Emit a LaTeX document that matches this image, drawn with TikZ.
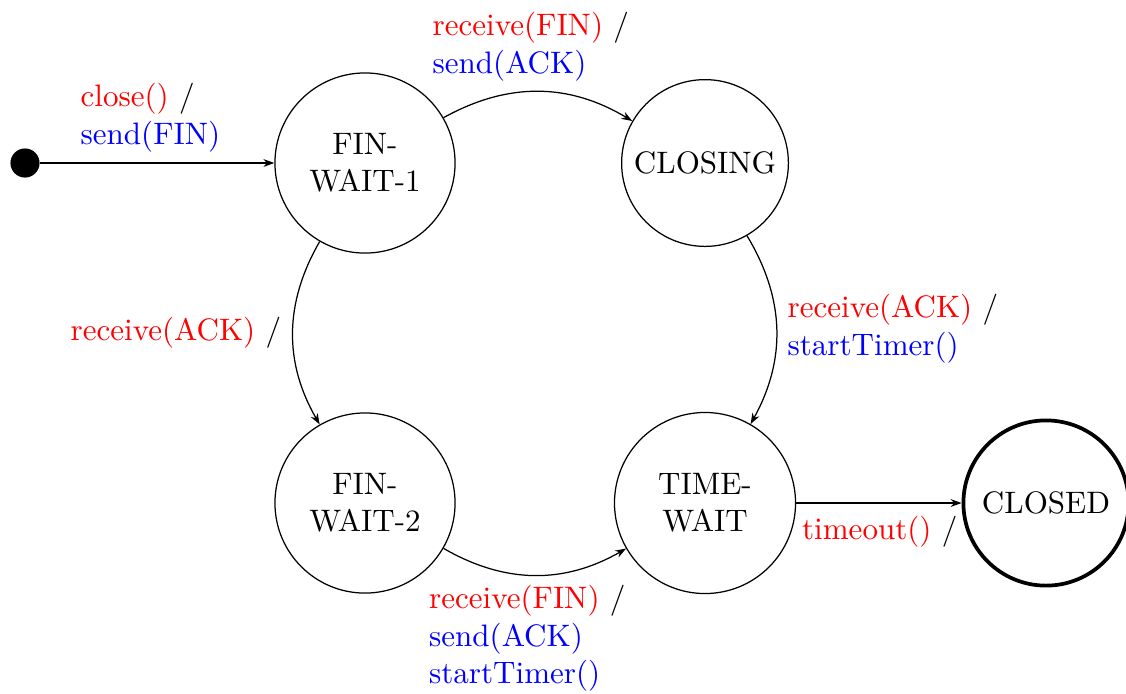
\documentclass[tikz,border=0pt]{standalone}
\usetikzlibrary{arrows.meta}
\begin{document}
\begin{tikzpicture}[x=0.322pt,y=-0.322pt,
  state/.style={draw,circle,line width=0.4pt,inner sep=0pt,align=center},
  lbl/.style={anchor=north west,inner sep=0pt,align=left},
  trans/.style={-{Stealth[length=3.5pt,width=2.5pt]},line width=0.4pt}]
\useasboundingbox (0,0) rectangle (1126,693);
\node[fill=black,circle,inner sep=0pt,minimum size=9.37pt] (init) at (25,163) {};
\node[state,minimum size=58pt] (fw1) at (365,163) {FIN-\\WAIT-1};
\node[state,minimum size=53.7pt] (closing) at (705,163) {CLOSING};
\node[state,minimum size=58pt] (fw2) at (365,503) {FIN-\\WAIT-2};
\node[state,minimum size=58.3pt] (tw) at (705,503) {TIME-\\WAIT};
\node[state,minimum size=53.2pt,line width=1.2pt] (closed) at (1046,503) {CLOSED};

\draw[trans] (init) -- (fw1);
\draw[trans] (fw1) to[bend left=30] (closing);
\draw[trans] (closing) to[bend left=30] (tw);
\draw[trans] (fw1) to[bend right=30] (fw2);
\draw[trans] (fw2) to[bend right=30] (tw);
\draw[trans] (tw) -- (closed);

\node[lbl] (l1) at (80,83) {\textcolor{red}{close()} $/$\\\textcolor{blue}{send(FIN)}};
\node[lbl] (l2) at (432,12) {\textcolor{red}{receive(FIN)} $/$\\\textcolor{blue}{send(ACK)}};
\node[lbl] (l3) at (787,294) {\textcolor{red}{receive(ACK)} $/$\\\textcolor{blue}{startTimer()}};
\node[lbl] (l4) at (70,317) {\textcolor{red}{receive(ACK)} $/$};
\node[lbl] (l5) at (428.5,585) {\textcolor{red}{receive(FIN)} $/$\\\textcolor{blue}{send(ACK)}\\\textcolor{blue}{startTimer()}};
\node[lbl] (l6) at (801.5,516) {\textcolor{red}{timeout()} $/$};
\end{tikzpicture}
\end{document}
